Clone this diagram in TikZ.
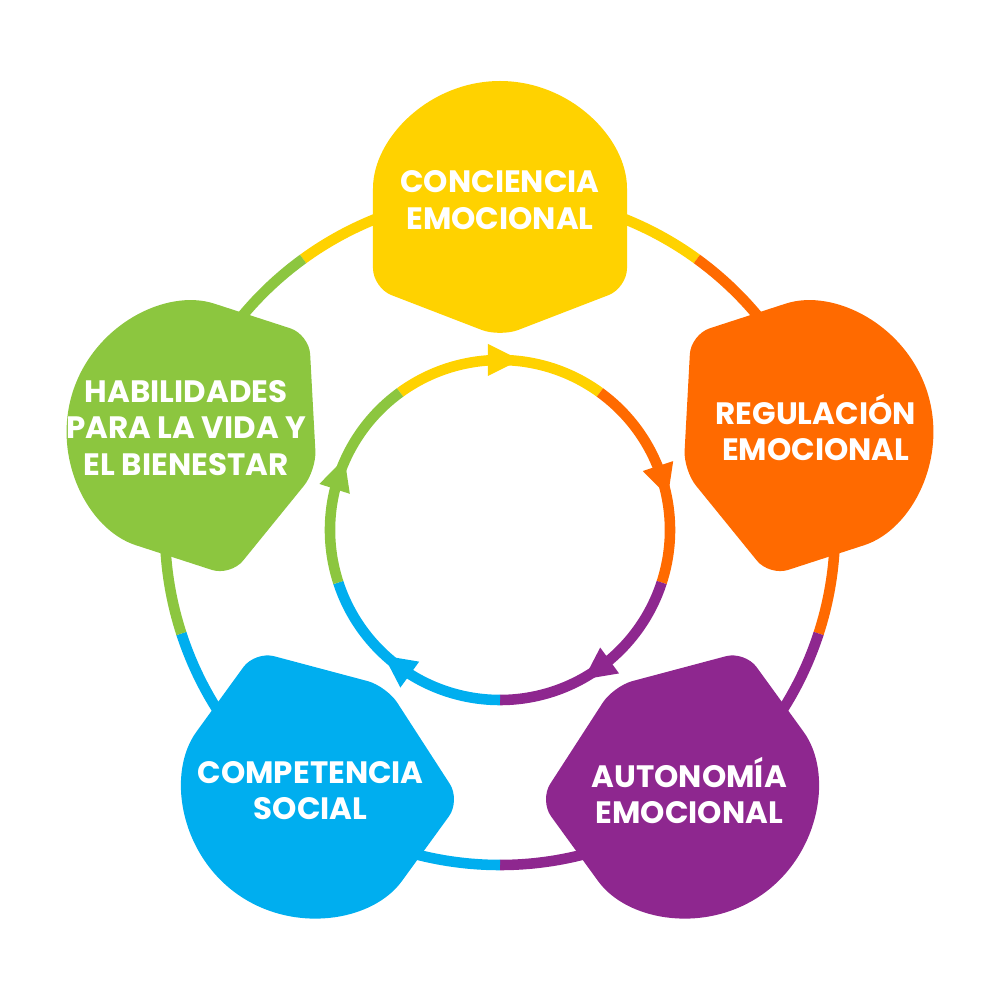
\documentclass[tikz,border=0pt]{standalone}
\usepackage{fontspec}
\setmainfont{Poppins}
\begin{document}
\definecolor{cy}{HTML}{FFD200}
\definecolor{co}{HTML}{FF6A00}
\definecolor{cp}{HTML}{8E278F}
\definecolor{cb}{HTML}{00AEEF}
\definecolor{cg}{HTML}{8CC63F}
\begin{tikzpicture}[x=0.025cm,y=0.025cm,
  lbl/.style={text=white,font=\fontsize{22}{26}\selectfont\bfseries,align=center},
  ring/.style={line width=7.5}]
\useasboundingbox (-500,-470) rectangle (500,530);
% rings
\foreach \a/\c in {90/cy,18/co,-54/cp,-126/cb,-198/cg}{
  \draw[ring,\c] (\a+36:335) arc (\a+36:\a-36:335);
  \draw[ring,\c] (\a+36:170) arc (\a+36:\a-36:170);
}
% arrows
\foreach \a/\c in {90/cy,18/co,-54/cp,-126/cb,-198/cg}{
  \begin{scope}[shift={(\a:170)},rotate=\a-90]
    \fill[\c] (20,0) -- (-12,16) -- (-12,-16) -- cycle;
  \end{scope}
}
% blobs
\foreach \a/\c in {90/cy,18/co,-54/cp,-126/cb,-198/cg}{
  \begin{scope}[shift={(\a:322)},rotate=\a-90]
    \fill[\c,rounded corners=14] (127,0) arc (0:180:127) -- (-127,-80) -- (0,-129) -- (127,-80) -- cycle;
  \end{scope}
}
\node[lbl] (ce) at (90:330) {CONCIENCIA\\EMOCIONAL};
\node[lbl] (re) at (18:332) {REGULACIÓN\\EMOCIONAL};
\node[lbl] (ae) at (-54:322) {AUTONOMÍA\\EMOCIONAL};
\node[lbl] (cs) at (-126:322) {COMPETENCIA\\SOCIAL};
\node[lbl] (hv) at (162:330) {HABILIDADES\\PARA LA VIDA Y\\EL BIENESTAR};
\end{tikzpicture}
\end{document}
